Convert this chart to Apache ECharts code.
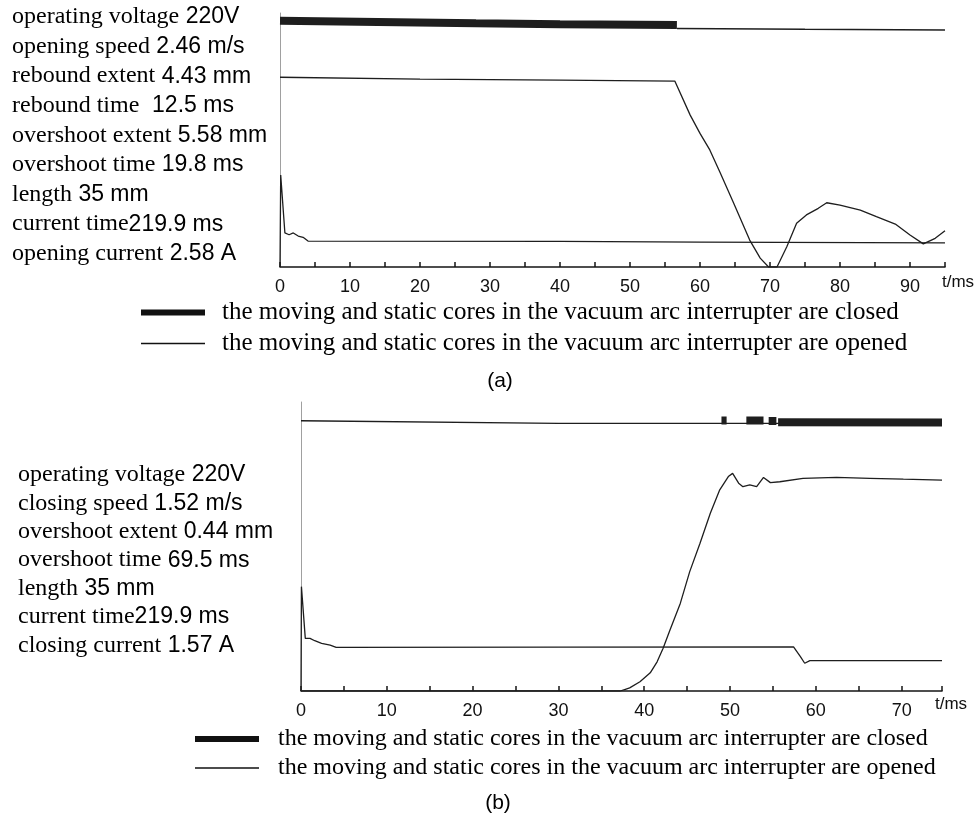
<!DOCTYPE html>
<html>
<head>
<meta charset="utf-8">
<script src="https://cdn.jsdelivr.net/npm/echarts@6/dist/echarts.min.js"></script>
<style>
html,body{margin:0;padding:0;background:#fff;}
#chart{width:979px;height:820px;}
</style>
</head>
<body>
<div id="chart"></div>
<script>
// ---------- data ----------
const CLOSED = 'the moving and static cores in the vacuum arc interrupter are closed';
const OPENED = 'the moving and static cores in the vacuum arc interrupter are opened';

// x tick labels
const ticksA = [0, 10, 20, 30, 40, 50, 60, 70, 80, 90];
const ticksB = [0, 10, 20, 30, 40, 50, 60, 70];

// (a) opening process: [t (ms), relative level]
const aClosed = [[0, 96.9], [14, 96.5], [28, 96.0], [40, 95.6], [56.7, 95.3]];
const aOpened = [[56.7, 93.9], [75, 93.6], [95, 93.3]];
const aTravel = [[0, 74.7], [20, 74.0], [40, 73.6], [56.4, 73.2], [58.6, 59.8], [60, 52.6], [61.4, 46.1],
  [62.9, 37.0], [64.8, 25.2], [67.1, 10.6], [68.6, 3.5], [69.8, 0], [71.0, 0], [72.4, 8.0], [73.8, 17.2],
  [75.2, 20.5], [76.9, 23.1], [78.1, 25.3], [80, 24.4], [82.9, 22.4], [85.2, 19.8], [87.9, 16.9],
  [90, 12.6], [91.9, 9.1], [93.6, 11.3], [95, 14.3]];
const aCurrent = [[0, 0], [0.1, 36.2], [0.35, 35.5], [0.7, 13.4], [1.3, 12.7], [1.9, 13.4], [2.6, 12.2],
  [3.3, 11.7], [4.0, 10.2], [40, 10.1], [60, 9.8], [95, 9.5]];

// (b) closing process
const bOpened = [[0, 93.5], [30, 92.6], [74.7, 92.6]];
const bClosed = [[49.0, 93.6], [49.6, 93.6], [50.5, '-'], [51.9, 93.6], [53.9, 93.6], [54.2, '-'],
  [54.5, 93.4], [55.4, 93.4], [55.5, '-'], [55.6, 93.0], [74.7, 92.9]];
const bTravel = [[0, 0], [37.2, 0], [37.8, 0.6], [38.3, 1.1], [39.5, 3.2], [40.7, 6.3], [41.5, 10.1],
  [42.2, 14.8], [43.0, 21.1], [44.2, 30.3], [45.3, 41.3], [46.5, 51.1], [47.7, 61.5], [48.8, 69.6],
  [49.8, 74.2], [50.3, 75.3], [51.0, 71.9], [51.5, 70.7], [52.3, 71.3], [53.1, 70.7], [53.9, 73.9],
  [54.7, 72.1], [55.8, 72.4], [58.5, 73.6], [62.4, 73.9], [66.3, 73.6], [70.2, 73.3], [74.7, 73.0]];
const bCurrent = [[0, 0], [0.05, 36.1], [0.25, 36.1], [0.5, 18.2], [1.05, 18.2], [1.6, 17.4], [2.4, 16.5],
  [3.4, 15.9], [4.1, 15.1], [30, 15.2], [57.4, 15.3], [58.2, 11.9], [58.7, 9.6], [59.3, 10.5], [74.7, 10.5]];

// parameter texts [words, numbers]
const paramsA = [
  ['operating voltage', ' 220V'],
  ['opening speed', ' 2.46 m/s'],
  ['rebound extent', ' 4.43 mm'],
  ['rebound time', '  12.5 ms'],
  ['overshoot extent', ' 5.58 mm'],
  ['overshoot time', ' 19.8 ms'],
  ['length', ' 35 mm'],
  ['current time', '219.9 ms'],
  ['opening current', ' 2.58 A']
];
const paramsB = [
  ['operating voltage', ' 220V'],
  ['closing speed', ' 1.52 m/s'],
  ['overshoot extent', ' 0.44 mm'],
  ['overshoot time', ' 69.5 ms'],
  ['length', ' 35 mm'],
  ['current time', '219.9 ms'],
  ['closing current', ' 1.57 A']
];

// ---------- styling ----------
const SERIF = '"Liberation Serif", "Times New Roman", serif';
const SANS = '"Liberation Sans", Arial, sans-serif';
const INK = '#1e1e1e';

function xAxisFor(grid, max, ticks, nameGap, namePadTop) {
  return {
    gridIndex: grid, type: 'value', min: 0, max: max, interval: 5,
    axisLine: { show: true, onZero: false, lineStyle: { color: '#151515', width: 1.6 } },
    axisTick: { show: true, inside: true, length: 5, lineStyle: { color: '#151515', width: 1.5 } },
    axisLabel: {
      margin: 11, fontSize: 18, fontFamily: SANS, color: '#111',
      formatter: v => (ticks.indexOf(v) >= 0 ? String(v) : '')
    },
    splitLine: { show: false },
    name: 't/ms', nameLocation: 'end', nameGap: nameGap,
    nameTextStyle: { fontSize: 17, fontFamily: SANS, color: '#111', align: 'left', verticalAlign: 'top', padding: [namePadTop, 0, 0, 0] }
  };
}
function yAxisFor(grid) {
  return {
    gridIndex: grid, type: 'value', min: 0, max: 100,
    axisLine: { show: true, onZero: false, lineStyle: { color: '#a0a0a0', width: 1 } },
    axisTick: { show: false }, axisLabel: { show: false }, splitLine: { show: false }
  };
}
function line(name, grid, data, width, z) {
  return {
    name: name, type: 'line', xAxisIndex: grid, yAxisIndex: grid, data: data,
    showSymbol: false, symbol: 'none', connectNulls: false, z: z || 2,
    itemStyle: { color: '#111' },
    lineStyle: { color: INK, width: width, cap: 'butt' },
    emphasis: { disabled: true }, silent: true
  };
}
function paramTexts(list, x, y0, dy) {
  return list.map((p, i) => ({
    type: 'text', x: x, y: y0 + dy * i,
    style: {
      text: '{s|' + p[0] + '}{n|' + p[1] + '}',
      verticalAlign: 'middle',
      rich: {
        s: { fontFamily: SERIF, fontSize: 24, fill: '#000' },
        n: { fontFamily: SANS, fontSize: 23, fill: '#000' }
      }
    }
  }));
}

const chart = echarts.init(document.getElementById('chart'), null, { renderer: 'canvas' });
chart.setOption({
  backgroundColor: '#fff',
  animation: false,
  color: ['#111'],
  grid: [
    { left: 280, top: 13, width: 665, height: 254 },
    { left: 301, top: 402, width: 641, height: 289 }
  ],
  xAxis: [xAxisFor(0, 95, ticksA, -3, 7), xAxisFor(1, 74.7, ticksB, -7, 5)],
  yAxis: [yAxisFor(0), yAxisFor(1)],
  legend: [
    {
      data: [{ name: CLOSED, icon: 'path://M0,0H64V6H0Z' }, { name: OPENED, icon: 'path://M0,0H64V1.3H0Z' }],
      orient: 'vertical', left: 141, top: 300, itemWidth: 64, itemHeight: 7, itemGap: 6, padding: 0,
      selectedMode: false,
      textStyle: { fontFamily: SERIF, fontSize: 25, color: '#000', lineHeight: 22, padding: [0, 0, 0, 12] }
    },
    {
      data: [{ name: CLOSED, icon: 'path://M0,0H64V6H0Z' }, { name: OPENED, icon: 'path://M0,0H64V1.3H0Z' }],
      orient: 'vertical', left: 195, top: 727, itemWidth: 64, itemHeight: 7, itemGap: 5, padding: 0,
      selectedMode: false,
      textStyle: { fontFamily: SERIF, fontSize: 24, color: '#000', lineHeight: 22, padding: [0, 0, 0, 14] }
    }
  ],
  series: [
    line(OPENED, 0, aOpened, 1.4, 3),
    line(CLOSED, 0, aClosed, 8, 4),
    line('travel (a)', 0, aTravel, 1.3),
    line('coil current (a)', 0, aCurrent, 1.3),
    line(OPENED, 1, bOpened, 1.4, 3),
    line(CLOSED, 1, bClosed, 8, 4),
    line('travel (b)', 1, bTravel, 1.3),
    line('coil current (b)', 1, bCurrent, 1.3)
  ],
  graphic: [].concat(
    paramTexts(paramsA, 12, 17, 29.6),
    paramTexts(paramsB, 18, 475, 28.4),
    [
      { type: 'text', x: 500, y: 381, style: { text: '(a)', fontFamily: SANS, fontSize: 21, fill: '#000', align: 'center', verticalAlign: 'middle' } },
      { type: 'text', x: 498, y: 803, style: { text: '(b)', fontFamily: SANS, fontSize: 21, fill: '#000', align: 'center', verticalAlign: 'middle' } }
    ]
  )
});
</script>
</body>
</html>
